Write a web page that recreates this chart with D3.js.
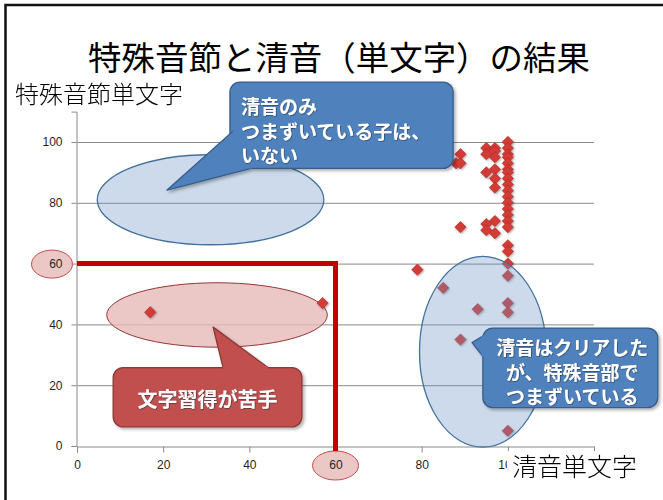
<!DOCTYPE html>
<html>
<head>
<meta charset="utf-8">
<script src="https://cdn.jsdelivr.net/npm/d3@7"></script>
<style>
  html, body { margin: 0; padding: 0; background: #fff; }
  svg { display: block; }
</style>
</head>
<body>
<svg id="chart" width="663" height="500"></svg>
<script>
// 清音単文字 (x) vs 特殊音節単文字 (y) scores per child
const seionScores = [17, 57, 79, 85, 89, 93, 88, 89, 89, 89, 95, 95, 95, 95, 95,
  97, 97, 97, 97, 97, 97, 97, 97,
  100, 100, 100, 100, 100, 100, 100, 100, 100, 100, 100, 100, 100, 100, 100, 100,
  100, 100, 100, 100, 100, 100, 100];
const tokushuScores = [44, 47, 58, 52, 35, 45, 93, 96, 93, 72, 98, 96, 90, 73, 71,
  98, 97, 95, 91, 88, 85, 74, 70,
  100, 98, 96, 95, 93, 91, 90, 88, 86, 84, 82, 80, 78, 76, 74, 72,
  66, 64, 60, 56, 47, 44, 5];
const xTicks = [0, 20, 40, 60, 80, 100, 120];
const xTickLabels = ["0", "20", "40", "60", "80", "100", ""];
const yTicks = [0, 20, 40, 60, 80, 100];
const threshold = 60;

const titleText = "特殊音節と清音（単文字）の結果";
const yTitle = "特殊音節単文字";
const xTitle = "清音単文字";
const noteTop = ["清音のみ", "つまずいている子は、", "いない"];
const noteRight = ["清音はクリアした", "が、特殊音部で", "つまずいている"];
const noteLeft = "文字習得が苦手";

const svg = d3.select("#chart");
const jp = "'Noto Sans CJK JP', 'Noto Sans', sans-serif";
const num = "'Liberation Sans', Arial, sans-serif";

const x = d3.scaleLinear().domain([0, 120]).range([77, 594]);
const y = d3.scaleLinear().domain([0, 110]).range([446, 111.6]);
const sx = v => x(v) - x(0);
const sy = v => y(0) - y(v);

const defs = svg.append("defs");
const sh = defs.append("filter").attr("id", "shadow")
  .attr("x", "-20%").attr("y", "-20%").attr("width", "140%").attr("height", "140%");
sh.append("feDropShadow").attr("dx", 2).attr("dy", 2).attr("stdDeviation", 1.5)
  .attr("flood-color", "#000").attr("flood-opacity", 0.3);
const ts = defs.append("filter").attr("id", "tshadow")
  .attr("x", "-10%").attr("y", "-20%").attr("width", "120%").attr("height", "140%");
ts.append("feDropShadow").attr("dx", 0.6).attr("dy", 0.6).attr("stdDeviation", 0.5)
  .attr("flood-color", "#1a2a40").attr("flood-opacity", 0.8);
const ms = defs.append("filter").attr("id", "mshadow")
  .attr("x", "-50%").attr("y", "-50%").attr("width", "200%").attr("height", "200%");
ms.append("feDropShadow").attr("dx", 1).attr("dy", 1).attr("stdDeviation", 0.8)
  .attr("flood-color", "#000").attr("flood-opacity", 0.35);

// outer frame
svg.append("rect").attr("x", 5.5).attr("y", 5).attr("width", 700).attr("height", 600)
  .attr("fill", "#fff").attr("stroke", "#111").attr("stroke-width", 2.5);

// title, sized to span its slot
const title = svg.append("text").attr("x", 339).attr("y", 55)
  .attr("text-anchor", "middle").attr("dominant-baseline", "central")
  .attr("font-family", jp).attr("font-size", 35).attr("fill", "#000")
  .text(titleText);
const tw = title.node().getComputedTextLength();
title.attr("font-size", Math.min(36, 35 * 502 / tw));

// gridlines
svg.append("g").selectAll("line").data(yTicks.filter(d => d > 0)).join("line")
  .attr("x1", x(0)).attr("x2", x(120))
  .attr("y1", d => y(d) + 0.5).attr("y2", d => y(d) + 0.5)
  .attr("stroke", "#8a8a8a").attr("stroke-width", 1);

// axes
const xAxis = svg.append("g").attr("transform", `translate(0,${y(0) + 0.5})`)
  .call(d3.axisBottom(x).tickValues(xTicks).tickSize(6).tickPadding(8)
    .tickFormat((d, i) => xTickLabels[i]));
const yAxis = svg.append("g").attr("transform", `translate(${x(0) - 0.5},0)`)
  .call(d3.axisLeft(y).tickValues(yTicks).tickSize(5).tickPadding(9).tickFormat(d3.format("d")));
[xAxis, yAxis].forEach(g => {
  g.select(".domain").attr("stroke", "#8a8a8a");
  g.selectAll(".tick line").attr("stroke", "#8a8a8a");
  g.selectAll(".tick text").attr("font-family", num).attr("font-size", 12).attr("fill", "#1f1f1f");
});

// threshold circles around the 60 tick labels
svg.append("ellipse").attr("cx", x(0) - 25).attr("cy", y(threshold) + 0.5).attr("rx", 20.5).attr("ry", 14)
  .attr("fill", "#e6b9b8").attr("fill-opacity", 0.8).attr("stroke", "#c0504d").attr("stroke-width", 1);
svg.append("ellipse").attr("cx", x(threshold)).attr("cy", y(0) + 19.5).attr("rx", 23).attr("ry", 14.5)
  .attr("fill", "#e6b9b8").attr("fill-opacity", 0.8).attr("stroke", "#c0504d").attr("stroke-width", 1);
yAxis.raise();
xAxis.raise();

// threshold lines
svg.append("path")
  .attr("d", `M${x(0)},${y(threshold)} H${x(threshold)} V${y(0) + 5}`)
  .attr("fill", "none").attr("stroke", "#c00000").attr("stroke-width", 5);

// pink highlight sits under the points
svg.append("ellipse").attr("cx", x(32.5)).attr("cy", y(43.1)).attr("rx", sx(25.6)).attr("ry", sy(10.6))
  .attr("fill", "#e6b9b8").attr("fill-opacity", 0.8).attr("stroke", "#953735").attr("stroke-width", 1);

// data points (diamonds)
const pts = seionScores.map((v, i) => ({ sx: v, ty: tokushuScores[i] }));
const diamond = d3.symbol().type(d3.symbolSquare).size(64);
svg.append("g").attr("filter", "url(#mshadow)").selectAll("path").data(pts).join("path")
  .attr("d", diamond)
  .attr("transform", d => `translate(${x(d.sx)},${y(d.ty)}) rotate(45)`)
  .attr("fill", "#d43a35").attr("stroke", "#a82c28").attr("stroke-width", 0.6);

// blue highlight ellipses, translucent over the points
const blueFill = "#6f95c5", blueStroke = "#41719c";
svg.append("ellipse").attr("cx", x(31)).attr("cy", y(81)).attr("rx", sx(26.3)).attr("ry", sy(14.8))
  .attr("fill", blueFill).attr("fill-opacity", 0.35).attr("stroke", blueStroke).attr("stroke-width", 1.3);
svg.append("ellipse").attr("cx", x(94.2)).attr("cy", y(31)).attr("rx", sx(14.7)).attr("ry", sy(31.4))
  .attr("fill", blueFill).attr("fill-opacity", 0.35).attr("stroke", blueStroke).attr("stroke-width", 1.3);

// callout: rounded box with a pointer tail
function callout(box, tail, fill, stroke) {
  const g = svg.append("g").attr("filter", "url(#shadow)");
  g.append("rect").attr("x", box.x0).attr("y", box.y0)
    .attr("width", box.x1 - box.x0).attr("height", box.y1 - box.y0)
    .attr("rx", 10).attr("fill", fill).attr("stroke", stroke).attr("stroke-width", 1.3);
  g.append("path").attr("d", d3.line()(tail))
    .attr("fill", fill).attr("stroke", stroke).attr("stroke-width", 1.3).attr("stroke-linejoin", "round");
  // cover the box edge where the tail joins
  g.append("path").attr("d", d3.line()([tail[0], tail[2]]))
    .attr("stroke", fill).attr("stroke-width", 3);
  return g;
}

// top callout
{
  const box = { x0: x(35.5), x1: x(87.3), y0: y(119.7), y1: y(91.3) };
  const tail = [[x(36.4), y(103.8)], [x(20.9), y(84.2)], [x(40.4), y(91.3)]];
  const g = callout(box, tail, "#4f81bd", "#385d8a");
  g.append("g").attr("filter", "url(#tshadow)").selectAll("text").data(noteTop).join("text")
    .attr("x", box.x0 + 11).attr("y", (d, i) => y(112) + i * 24.5)
    .attr("dominant-baseline", "central")
    .attr("font-family", jp).attr("font-weight", "bold").attr("font-size", 19).attr("fill", "#fff")
    .text(d => d);
}

// right callout
{
  const box = { x0: x(94.2), x1: x(134.8), y0: y(38.8), y1: y(12.6) };
  const tail = [[x(94.2), y(36.2)], [x(91.7), y(34)], [x(94.2), y(29.5)]];
  const g = callout(box, tail, "#4f81bd", "#385d8a");
  g.append("g").attr("filter", "url(#tshadow)").selectAll("text").data(noteRight).join("text")
    .attr("x", (box.x0 + box.x1) / 2 + 2).attr("y", (d, i) => y(32.7) + i * 24.5)
    .attr("text-anchor", "middle").attr("dominant-baseline", "central")
    .attr("font-family", jp).attr("font-weight", "bold").attr("font-size", 19).attr("fill", "#fff")
    .text(d => d);
}

// left callout
{
  const box = { x0: x(8.4), x1: x(52.2), y0: y(25.8), y1: y(6.3) };
  const tail = [[x(33.9), y(25.8)], [x(31.6), y(39.1)], [x(44.3), y(25.8)]];
  const g = callout(box, tail, "#c0504d", "#8c3836");
  g.append("text").attr("filter", "url(#tshadow)")
    .attr("x", (box.x0 + box.x1) / 2).attr("y", (box.y0 + box.y1) / 2 + 1)
    .attr("text-anchor", "middle").attr("dominant-baseline", "central")
    .attr("font-family", jp).attr("font-weight", "bold").attr("font-size", 20).attr("fill", "#fff")
    .text(noteLeft);
}

// axis titles
svg.append("text").attr("x", 15).attr("y", 92)
  .attr("dominant-baseline", "central")
  .attr("font-family", jp).attr("font-weight", 300).attr("font-size", 24).attr("fill", "#000")
  .text(yTitle);
svg.append("rect").attr("x", 507).attr("y", 451).attr("width", 140).attr("height", 32).attr("fill", "#fff");
svg.append("text").attr("x", 512).attr("y", 465)
  .attr("dominant-baseline", "central")
  .attr("font-family", jp).attr("font-weight", 300).attr("font-size", 25).attr("fill", "#000")
  .text(xTitle);
</script>
</body>
</html>
